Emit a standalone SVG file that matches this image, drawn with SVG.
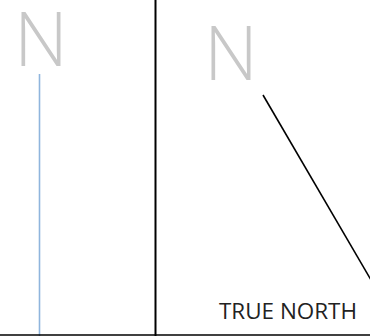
<svg xmlns="http://www.w3.org/2000/svg" width="370" height="336" viewBox="0 0 370 336">
<style>
.n{font-family:"Open Sans","Noto Sans","Liberation Sans",sans-serif;font-weight:300;font-size:75px;fill:#c8c8c8}
.t{font-family:"Open Sans","Noto Sans","Liberation Sans",sans-serif;font-weight:400;font-size:22px;fill:#222}
</style>
<rect width="370" height="336" fill="#fff"/>
<g id="connectors">
<line x1="39.5" y1="74" x2="39.5" y2="336" stroke="#8fb5dd" stroke-width="1.6"/>
<line x1="155.5" y1="0" x2="155.5" y2="336" stroke="#000" stroke-width="2"/>
<line x1="0" y1="335" x2="370" y2="335" stroke="#000" stroke-width="1.6"/>
<line x1="263" y1="95" x2="371" y2="280" stroke="#000" stroke-width="1.6"/>
</g>
<g id="n-left"><text class="n" x="14" y="66" textLength="54" lengthAdjust="spacingAndGlyphs">N</text></g>
<g id="n-right"><text class="n" x="204" y="80" textLength="54" lengthAdjust="spacingAndGlyphs">N</text></g>
<g id="true-north"><text class="t" x="219" y="319" textLength="138" lengthAdjust="spacingAndGlyphs">TRUE NORTH</text></g>
</svg>
